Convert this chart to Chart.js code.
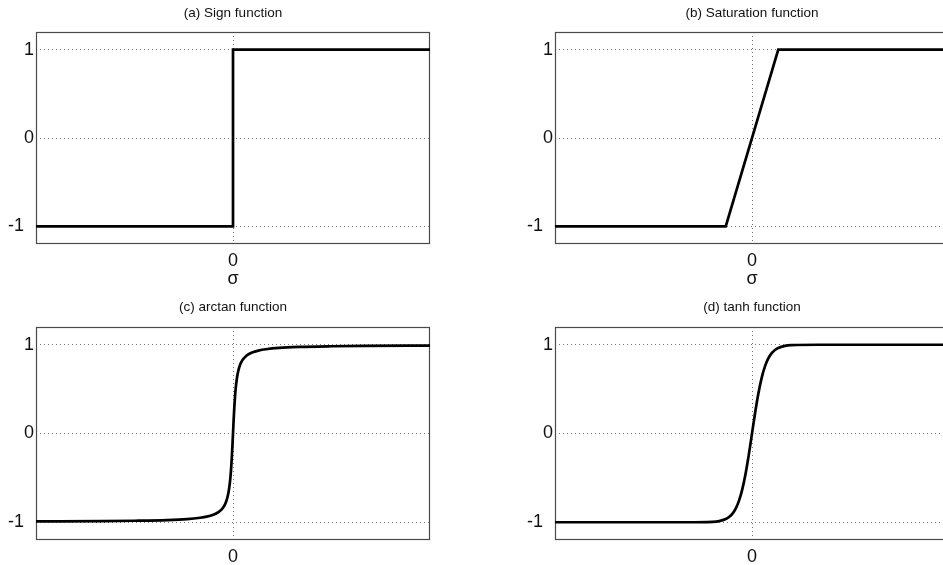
<!DOCTYPE html>
<html>
<head>
<meta charset="utf-8">
<script src="https://cdn.jsdelivr.net/npm/chart.js@4.4.1/dist/chart.umd.min.js"></script>
<style>
  html, body { margin: 0; padding: 0; background: #fff; overflow: hidden; width: 943px; height: 565px; }
  canvas { position: absolute; }
</style>
</head>
<body>
<canvas id="panelA" width="480" height="290" style="left:0;top:0"></canvas>
<canvas id="panelB" width="480" height="290" style="left:480px;top:0"></canvas>
<canvas id="panelC" width="480" height="275" style="left:0;top:290px"></canvas>
<canvas id="panelD" width="480" height="275" style="left:480px;top:290px"></canvas>
<script>
// axis setup
const xTicks = [0];
const yTicks = [-1, 0, 1];
const xRange = [-3, 3];
const yRange = [-1.2, 1.2];
const panelTitles = ['(a) Sign function', '(b) Saturation function', '(c) arctan function', '(d) tanh function'];
const xAxisTitles = ['σ', 'σ', '', ''];

// (a) sign
const signX = [-3, 0, 0, 3];
const signY = [-1, -1, 1, 1];

// (b) saturation
const satX = [-3, -0.4, 0.4, 3];
const satY = [-1, -1, 1, 1];

// (c) arctan
const atanX = [-3, -2, -1.5, -1, -0.7, -0.5, -0.4, -0.3, -0.25, -0.2, -0.15, -0.12, -0.1, -0.08, -0.06, -0.04, -0.03, -0.02, -0.01,
  0, 0.01, 0.02, 0.03, 0.04, 0.06, 0.08, 0.1, 0.12, 0.15, 0.2, 0.25, 0.3, 0.4, 0.5, 0.7, 1, 1.5, 2, 3];
const atanY = [-0.99, -0.987, -0.983, -0.975, -0.964, -0.949, -0.937, -0.916, -0.899, -0.874, -0.834, -0.795, -0.758, -0.705, -0.626, -0.5, -0.41, -0.295, -0.156,
  0, 0.156, 0.295, 0.41, 0.5, 0.626, 0.705, 0.758, 0.795, 0.834, 0.874, 0.899, 0.916, 0.937, 0.949, 0.964, 0.975, 0.983, 0.987, 0.99];

// (d) tanh
const tanhX = [-3, -1, -0.6, -0.5, -0.4, -0.35, -0.3, -0.25, -0.2, -0.15, -0.1, -0.05,
  0, 0.05, 0.1, 0.15, 0.2, 0.25, 0.3, 0.35, 0.4, 0.5, 0.6, 1, 3];
const tanhY = [-1, -1, -0.995, -0.987, -0.964, -0.941, -0.905, -0.848, -0.762, -0.635, -0.462, -0.245,
  0, 0.245, 0.462, 0.635, 0.762, 0.848, 0.905, 0.941, 0.964, 0.987, 0.995, 1, 1];

const FONT = '"Liberation Sans", Arial, sans-serif';

// box around the plot area
const framePlugin = {
  id: 'frame',
  beforeDatasetsDraw(chart) {
    const ctx = chart.ctx;
    const a = chart.chartArea;
    ctx.save();
    ctx.strokeStyle = '#4a4a4a';
    ctx.lineWidth = 1.2;
    ctx.strokeRect(Math.round(a.left) + 0.5, Math.round(a.top) + 0.5,
      Math.round(a.right - a.left) - 1, Math.round(a.bottom - a.top) - 1);
    ctx.restore();
  }
};

function toPoints(xs, ys) {
  return xs.map(function (x, i) { return { x: x, y: ys[i] }; });
}

// matlab leaves a little extra room after negative labels
function tickText(v) {
  return v < 0 ? String(v) + '  ' : String(v);
}

function makePanel(id, idx, xs, ys, box, smooth) {
  return new Chart(document.getElementById(id), {
    type: 'line',
    data: {
      datasets: [{
        data: toPoints(xs, ys),
        borderColor: '#000',
        borderWidth: 2.7,
        pointRadius: 0,
        fill: false,
        tension: 0,
        cubicInterpolationMode: smooth ? 'monotone' : 'default'
      }]
    },
    options: {
      responsive: false,
      animation: false,
      layout: { padding: { left: 0, right: box.padRight, top: 0, bottom: 0 } },
      plugins: {
        legend: { display: false },
        tooltip: { enabled: false },
        title: {
          display: true,
          text: panelTitles[idx],
          fullSize: false,
          color: '#111',
          font: { family: FONT, size: 13.5, weight: 'normal' },
          padding: { top: box.titleTop, bottom: box.titleBottom }
        }
      },
      scales: {
        x: {
          type: 'linear',
          min: xRange[0],
          max: xRange[1],
          afterBuildTicks: function (s) { s.ticks = xTicks.map(function (v) { return { value: v }; }); },
          afterFit: function (s) { s.height = box.xAxisHeight; },
          ticks: { color: '#111', padding: 6, maxRotation: 0, font: { family: FONT, size: 18 }, callback: tickText },
          grid: { color: '#777', drawTicks: false },
          border: { display: false, dash: [1, 3] },
          title: {
            display: xAxisTitles[idx] !== '',
            text: xAxisTitles[idx],
            color: '#111',
            font: { family: FONT, size: 18 },
            padding: { top: 0, bottom: 0 }
          }
        },
        y: {
          type: 'linear',
          min: yRange[0],
          max: yRange[1],
          afterBuildTicks: function (s) { s.ticks = yTicks.map(function (v) { return { value: v }; }); },
          afterFit: function (s) { s.width = box.yAxisWidth; },
          ticks: { color: '#111', padding: 2, font: { family: FONT, size: 18 }, callback: tickText },
          grid: { color: '#777', drawTicks: false },
          border: { display: false, dash: [1, 3] }
        }
      }
    },
    plugins: [framePlugin]
  });
}

const topBox = { titleTop: 5, titleBottom: 10.8, xAxisHeight: 46 };
const bottomBox = { titleTop: 9.2, titleBottom: 11.6, xAxisHeight: 25 };

makePanel('panelA', 0, signX, signY, Object.assign({ yAxisWidth: 36, padRight: 50 }, topBox), false);
makePanel('panelB', 1, satX, satY, Object.assign({ yAxisWidth: 75, padRight: 11 }, topBox), false);
makePanel('panelC', 2, atanX, atanY, Object.assign({ yAxisWidth: 36, padRight: 50 }, bottomBox), true);
makePanel('panelD', 3, tanhX, tanhY, Object.assign({ yAxisWidth: 75, padRight: 11 }, bottomBox), true);
</script>
</body>
</html>
